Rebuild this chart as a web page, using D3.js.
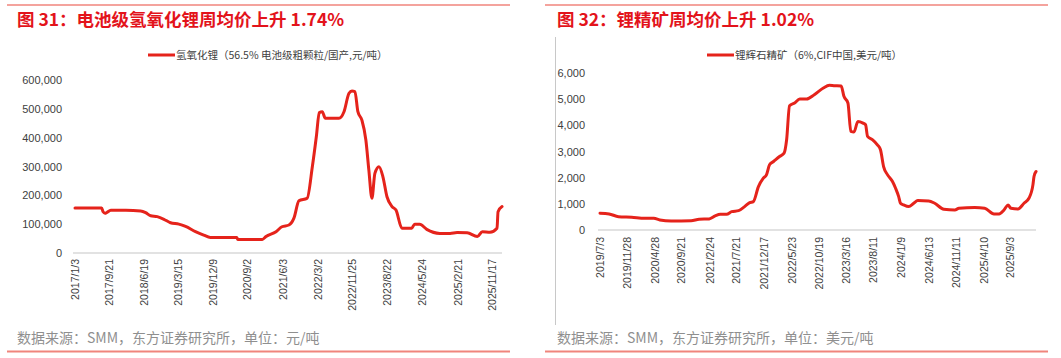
<!DOCTYPE html>
<html>
<head>
<meta charset="utf-8">
<script src="https://cdn.jsdelivr.net/npm/d3@7/dist/d3.min.js"></script>
<style>
  html, body { margin: 0; padding: 0; background: #fff; }
  svg { display: block; }
</style>
</head>
<body>
<svg id="chart" width="1061" height="358"></svg>
<script>
// ---------------- DATA ----------------
const leftTitle = "图 31：电池级氢氧化锂周均价上升 1.74%";
const leftLegend = "氢氧化锂（56.5% 电池级粗颗粒/国产,元/吨）";
const leftSource = "数据来源：SMM，东方证券研究所，单位：元/吨";
const leftTickLabels = ["2017/1/3","2017/9/21","2018/6/19","2019/3/15","2019/12/9","2020/9/2","2021/6/3","2022/3/2","2022/11/25","2023/8/22","2024/5/24","2025/2/21","2025/11/17"];
const leftYTicks = [0, 100000, 200000, 300000, 400000, 500000, 600000];
const leftDates = ["2017/1/3","2017/7/29","2017/8/9","2017/8/24","2017/9/6","2017/10/8","2018/2/2","2018/5/28","2018/7/6","2018/8/14","2018/10/4","2018/11/25","2019/1/15","2019/3/21","2019/5/12","2019/7/28","2019/9/30","2019/11/21","2020/6/13","2020/6/21","2020/12/28","2021/1/26","2021/4/14","2021/5/30","2021/7/23","2021/8/31","2021/10/9","2021/12/12","2022/1/21","2022/2/21","2022/3/16","2022/4/8","2022/5/2","2022/8/16","2022/9/24","2022/11/2","2022/11/25","2022/12/18","2023/1/10","2023/2/10","2023/3/13","2023/4/5","2023/4/29","2023/5/22","2023/6/23","2023/7/23","2023/8/24","2023/10/2","2023/11/2","2023/12/18","2024/3/3","2024/3/26","2024/5/4","2024/6/28","2024/10/8","2024/12/26","2025/2/19","2025/5/8","2025/7/26","2025/9/3","2025/11/1","2025/12/26","2026/1/3","2026/2/3"];
const leftValues = [156000,156000,143000,138000,140000,148000,148000,146000,140000,129000,126000,117000,105000,100000,92000,74000,62000,54000,54000,47000,47000,57000,74000,91000,97000,121000,181000,190000,299000,403000,487000,490000,467000,467000,490000,554000,562000,560000,490000,461000,392000,288000,190000,276000,299000,265000,195000,161000,149000,86000,86000,100000,100000,82000,68000,68000,71000,70000,57000,74000,72000,86000,143000,161000];

const rightTitle = "图 32：锂精矿周均价上升 1.02%";
const rightLegend = "锂辉石精矿（6%,CIF中国,美元/吨）";
const rightSource = "数据来源：SMM，东方证券研究所，单位：美元/吨";
const rightTickLabels = ["2019/7/3","2019/11/28","2020/4/28","2020/9/21","2021/2/24","2021/7/21","2021/12/17","2022/5/23","2022/10/19","2023/3/16","2023/8/11","2024/1/9","2024/6/13","2024/11/11","2025/4/10","2025/9/3"];
const rightYTicks = [0, 1000, 2000, 3000, 4000, 5000, 6000];
const rightDates = ["2019/7/3","2019/8/22","2019/10/13","2019/12/24","2020/3/5","2020/4/24","2020/5/27","2020/7/28","2020/11/15","2020/12/29","2021/2/22","2021/3/27","2021/4/24","2021/5/29","2021/6/26","2021/8/3","2021/9/5","2021/10/3","2021/10/23","2021/11/20","2021/12/17","2022/1/3","2022/1/20","2022/2/11","2022/3/16","2022/4/10","2022/4/24","2022/5/10","2022/6/7","2022/7/5","2022/8/12","2022/9/23","2022/11/12","2022/12/15","2023/1/9","2023/2/18","2023/3/5","2023/3/27","2023/4/12","2023/4/29","2023/5/21","2023/6/18","2023/7/2","2023/7/13","2023/8/10","2023/9/5","2023/9/22","2023/10/9","2023/10/31","2023/11/27","2023/12/14","2023/12/31","2024/1/10","2024/1/27","2024/2/24","2024/3/23","2024/4/14","2024/6/13","2024/7/16","2024/9/4","2024/11/4","2024/11/26","2025/2/21","2025/4/17","2025/6/7","2025/7/5","2025/8/1","2025/8/23","2025/9/8","2025/10/17","2025/11/19","2025/12/16","2026/1/7","2026/1/13","2026/1/24"];
const rightValues = [640,613,510,487,448,448,383,345,357,410,423,536,600,600,702,740,894,1046,1085,1660,1980,2110,2490,2617,2810,2937,3448,4751,4853,5006,5006,5172,5428,5530,5517,5504,5108,4853,3767,3742,4150,4086,4023,3576,3448,3257,3065,2426,2107,1852,1596,1277,1022,958,894,1022,1124,1111,1022,792,766,830,856,830,613,613,766,958,830,805,1022,1213,1724,2043,2234];

// ---------------- DRAW ----------------
const parse = d3.timeParse("%Y/%m/%d");
const svg = d3.select("#chart");
const RED = "#e5231b";
const TITLE_RED = "#e3131b";
const FRAME = "#f0857c";
const CJK = "'Noto Sans CJK SC', 'Noto Sans', sans-serif";
const LAT = "'Liberation Sans', Arial, sans-serif";

function panel(cfg) {
  const g = svg.append("g");
  g.append("line").attr("x1", cfg.frame[0]).attr("x2", cfg.frame[1])
    .attr("y1", 5).attr("y2", 5).attr("stroke", FRAME).attr("stroke-width", 1.5);
  g.append("line").attr("x1", cfg.frame[0]).attr("x2", cfg.frame[1])
    .attr("y1", 351.5).attr("y2", 351.5).attr("stroke", FRAME).attr("stroke-width", 2);

  g.append("text").attr("x", cfg.titleX).attr("y", 25.5)
    .attr("font-family", CJK).attr("font-weight", "bold").attr("font-size", 17.5)
    .attr("fill", TITLE_RED).text(cfg.title);

  g.append("text").attr("x", cfg.titleX).attr("y", 343)
    .attr("font-family", CJK).attr("font-size", 14)
    .attr("fill", "#8f8f8f").text(cfg.source);

  if (cfg.border) {
    g.append("line").attr("x1", cfg.border).attr("x2", cfg.border)
      .attr("y1", 37).attr("y2", 325).attr("stroke", "#c8c8c8").attr("stroke-width", 1);
  }

  const dates = cfg.dates.map(parse);
  const tickDates = cfg.ticks.map(parse);
  const x = d3.scaleTime()
    .domain([tickDates[0], tickDates[tickDates.length - 1]])
    .range(cfg.xRange);
  const y = d3.scaleLinear().domain([0, cfg.yMax]).range(cfg.yRange);

  const lg = g.append("g");
  lg.append("line").attr("x1", cfg.legendX).attr("x2", cfg.legendX + 27)
    .attr("y1", 55).attr("y2", 55).attr("stroke", RED).attr("stroke-width", 3);
  lg.append("text").attr("x", cfg.legendX + 28).attr("y", 55).attr("dy", "0.36em")
    .attr("font-family", CJK).attr("font-size", 10.5).attr("fill", "#404040")
    .text(cfg.legend);

  const yAxis = g.append("g").attr("transform", `translate(${cfg.yLabelX},0)`)
    .call(d3.axisLeft(y).tickValues(cfg.yTicks).tickFormat(d3.format(",")).tickSize(0).tickPadding(0));
  yAxis.select(".domain").remove();
  yAxis.selectAll("text").attr("font-family", LAT).attr("font-size", 11).attr("fill", "#404040");

  g.append("line")
    .attr("x1", x(dates[0]) - 2).attr("x2", x(dates[dates.length - 1]))
    .attr("y1", y(0)).attr("y2", y(0))
    .attr("stroke", "#d9d9d9").attr("stroke-width", 1.5);

  const xAxis = g.append("g").attr("transform", `translate(0,${cfg.xLabelTop})`)
    .call(d3.axisBottom(x).tickValues(tickDates)
      .tickFormat((d, i) => cfg.ticks[i]).tickSize(0).tickPadding(0));
  xAxis.select(".domain").remove();
  xAxis.selectAll("text")
    .attr("font-family", LAT).attr("font-size", 10.5).attr("fill", "#404040")
    .attr("text-anchor", "end")
    .attr("y", 0).attr("dy", "0.35em")
    .attr("transform", "rotate(-90)");

  const line = d3.line()
    .x((d, i) => x(dates[i]))
    .y(d => y(d))
    .curve(d3.curveMonotoneX);
  g.append("path").datum(cfg.values)
    .attr("d", line).attr("fill", "none")
    .attr("stroke", RED).attr("stroke-width", 3)
    .attr("stroke-linejoin", "round").attr("stroke-linecap", "round");
}

panel({
  frame: [7, 510], titleX: 17, title: leftTitle, source: leftSource,
  legend: leftLegend, legendX: 148,
  dates: leftDates, values: leftValues, ticks: leftTickLabels,
  xRange: [75, 492], yMax: 600000, yRange: [253, 80], yTicks: leftYTicks,
  yLabelX: 62, xLabelTop: 259
});

panel({
  frame: [545, 1048], titleX: 557, title: rightTitle, source: rightSource,
  legend: rightLegend, legendX: 707, border: 555.5,
  dates: rightDates, values: rightValues, ticks: rightTickLabels,
  xRange: [600, 1010], yMax: 6000, yRange: [230, 73], yTicks: rightYTicks,
  yLabelX: 585, xLabelTop: 237
});
</script>
</body>
</html>
